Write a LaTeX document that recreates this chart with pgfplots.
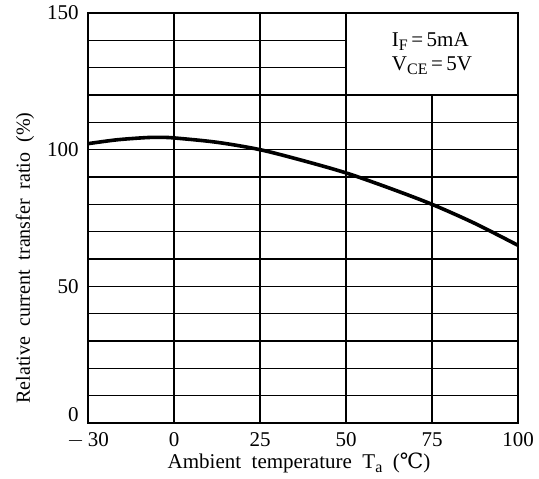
\documentclass[border=0pt]{standalone}
\usepackage{pgfplots}
\pgfplotsset{compat=1.18}
\usepackage{fontspec}
\setmainfont{Liberation Serif}
\newfontfamily\djv{DejaVu Serif}
\newcommand\lsub[1]{\raisebox{-0.4ex}{\fontsize{8}{8}\selectfont #1}}

\begin{document}
\fontsize{10.5}{12}\selectfont
\begin{tikzpicture}
\begin{axis}[
  name=main,
  width=215pt, height=205pt, scale only axis,
  xmin=-30, xmax=100, ymin=0, ymax=150,
  % the -30..0 span is drawn as wide as one 25-degree step
  x coord trafo/.code={\pgfmathparse{#1<0 ? #1*25/30 : #1}},
  x coord inv trafo/.code={\pgfmathparse{#1<0 ? #1*30/25 : #1}},
  xtick={-30,0,25,50,75,100},
  xticklabels={$-$\,30,0,25,50,75,100},
  ytick={0,50,100,150},
  yticklabels={\raisebox{8pt}{0},50,100,150},
  minor ytick={10,20,30,40,60,70,80,90,110,120,130,140},
  xmajorgrids, ymajorgrids, yminorgrids,
  grid style={black, line width=0.75pt},
  minor grid style={black, line width=0.75pt},
  major tick length=0pt, minor tick length=0pt,
  axis line style={line width=1pt},
  /pgf/number format/assume math mode=true,
  tick label style={font=\fontsize{10.5}{12}\selectfont},
  xticklabel style={yshift=-1pt},
  yticklabel style={xshift=-1pt},
  xlabel={Ambient\ \ temperature\ \ T\lsub{a}\ \ ({\djv ℃})},
  ylabel={Relative\ \ current\ \ transfer\ \ ratio\ \ (\%)},
  xlabel style={at={(axis description cs:0.5,0)}, anchor=center, yshift=-20pt, xshift=-2pt},
  ylabel style={at={(axis description cs:0,0.5)}, anchor=center, xshift=-20pt, yshift=31.5pt,
    font=\fontsize{10}{12}\selectfont},
]
\addplot[black, line width=1.8pt, smooth] coordinates {
  (-30,102.2) (-20,103.6) (-10,104.4) (-5,104.5) (0,104.3) (12.5,102.7)
  (25,100) (37.5,96) (50,91.5) (62.5,86) (75,80) (87.5,73) (100,65)
};
\draw[line width=0.8pt, fill=white] (axis cs:50,120) rectangle (axis cs:100,150);
\node[align=left] at (axis cs:75,135) {I\lsub{F}\,=\,5mA\\V\lsub{CE}\,=\,5V};
\end{axis}
\pgfresetboundingbox
\path ([shift={(-44pt,-27.5pt)}]main.south west) rectangle ([shift={(10.5pt,6.5pt)}]main.north east);
\end{tikzpicture}
\end{document}
